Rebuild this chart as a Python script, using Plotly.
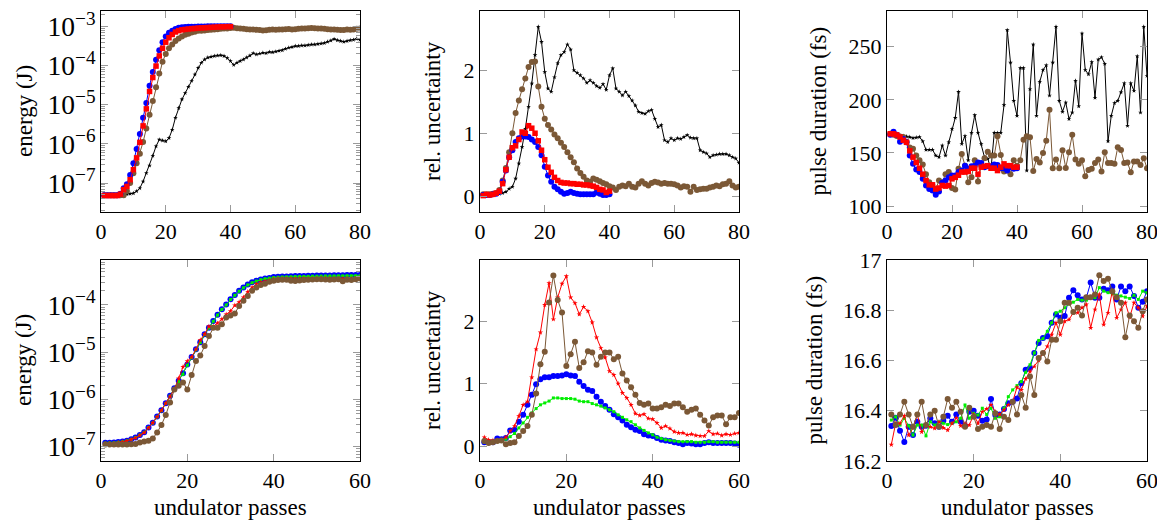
import plotly.graph_objects as go
from plotly.subplots import make_subplots

# ---------------- data ----------------
passes_long = list(range(1, 81))
passes_short = list(range(1, 41))
passes_bottom = list(range(1, 61))

# top-left: energy (J)
tl_black = [4.9e-8, 4.9e-8, 4.9e-8, 4.9e-8, 4.9e-8, 5.0e-8, 5.0e-8, 5.2e-8, 5.3e-8, 5.5e-8,
            6.2e-8, 7.4e-8, 1.1e-7, 1.8e-7, 2.8e-7, 5.0e-7, 8.7e-7, 1.29e-6, 1.23e-6, 1.17e-6,
            1.41e-6, 2.3e-6, 4.7e-6, 8.3e-6, 1.38e-5, 2.0e-5, 2.9e-5, 4.1e-5, 6.0e-5, 8.9e-5,
            1.2e-4, 1.45e-4, 1.62e-4, 1.7e-4, 1.78e-4, 1.82e-4, 1.86e-4, 1.78e-4, 1.58e-4, 1.32e-4,
            1.05e-4, 1.2e-4, 1.32e-4, 1.45e-4, 1.62e-4, 1.82e-4, 2.1e-4, 1.95e-4, 2.04e-4, 2.15e-4,
            2.1e-4, 2.24e-4, 2.2e-4, 2.3e-4, 2.4e-4, 2.5e-4, 2.7e-4, 2.9e-4, 3.0e-4, 3.2e-4,
            3.2e-4, 3.3e-4, 3.3e-4, 3.4e-4, 3.5e-4, 3.5e-4, 3.6e-4, 3.7e-4, 3.8e-4, 4.1e-4,
            4.4e-4, 4.8e-4, 4.5e-4, 4.3e-4, 4.1e-4, 4.3e-4, 4.5e-4, 4.6e-4, 4.9e-4, 4.6e-4]
tl_brown = [4.9e-8, 4.9e-8, 4.9e-8, 4.9e-8, 4.9e-8, 4.9e-8, 4.9e-8, 6.3e-8, 1.0e-7, 1.78e-7,
            3.2e-7, 5.6e-7, 1.12e-6, 2.5e-6, 5.6e-6, 1.26e-5, 2.8e-5, 6.3e-5, 1.26e-4, 2.0e-4,
            2.8e-4, 3.5e-4, 4.3e-4, 5.0e-4, 5.6e-4, 6.2e-4, 6.6e-4, 7.1e-4, 7.4e-4, 7.8e-4,
            7.9e-4, 8.0e-4, 8.2e-4, 8.3e-4, 8.5e-4, 8.6e-4, 8.8e-4, 8.9e-4, 9.0e-4, 9.2e-4,
            9.3e-4, 9.1e-4, 8.9e-4, 8.8e-4, 8.6e-4, 8.5e-4, 8.4e-4, 8.3e-4, 8.2e-4, 8.0e-4,
            8.1e-4, 8.3e-4, 8.4e-4, 8.3e-4, 8.5e-4, 8.4e-4, 8.6e-4, 8.7e-4, 8.5e-4, 8.6e-4,
            8.8e-4, 8.9e-4, 9.0e-4, 9.1e-4, 9.2e-4, 9.1e-4, 9.0e-4, 8.9e-4, 8.8e-4, 8.6e-4,
            8.5e-4, 8.4e-4, 8.3e-4, 8.2e-4, 8.2e-4, 8.4e-4, 8.3e-4, 8.5e-4, 8.8e-4, 9.0e-4]
tl_blue = [4.9e-8, 4.9e-8, 4.9e-8, 4.9e-8, 4.9e-8, 5.3e-8, 7.4e-8, 9.3e-8, 1.6e-7, 3.2e-7,
           7.4e-7, 1.8e-6, 4.7e-6, 1.12e-5, 3.1e-5, 6.9e-5, 1.42e-4, 2.5e-4, 4.0e-4, 5.6e-4,
           7.0e-4, 7.9e-4, 8.7e-4, 9.3e-4, 9.6e-4, 9.8e-4, 9.9e-4, 1.0e-3, 1.0e-3, 1.01e-3,
           1.01e-3, 1.01e-3, 1.02e-3, 1.02e-3, 1.02e-3, 1.02e-3, 1.03e-3, 1.03e-3, 1.03e-3, 1.03e-3]
tl_red = [4.8e-8, 4.8e-8, 4.8e-8, 4.8e-8, 4.8e-8, 5.2e-8, 6.8e-8, 8.2e-8, 1.22e-7, 2.2e-7,
          4.4e-7, 1.1e-6, 2.9e-6, 7.9e-6, 2.2e-5, 5.0e-5, 9.8e-5, 1.78e-4, 2.8e-4, 4.0e-4,
          5.2e-4, 6.3e-4, 7.3e-4, 7.9e-4, 8.3e-4, 8.5e-4, 8.7e-4, 8.9e-4, 9.0e-4, 9.2e-4,
          9.3e-4, 9.4e-4, 9.5e-4, 9.6e-4, 9.7e-4, 9.8e-4, 9.9e-4, 9.9e-4, 1.0e-3, 1.0e-3]

# top-middle: rel. uncertainty
tm_black = [0.03, 0.03, 0.03, 0.03, 0.03, 0.04, 0.05, 0.07, 0.12, 0.15,
            0.28, 0.52, 0.78, 1.07, 1.42, 1.79, 2.24, 2.69, 2.45, 1.97,
            1.71, 1.66, 1.89, 2.11, 2.24, 2.29, 2.41, 2.33, 2.00, 1.96,
            1.92, 1.87, 1.80, 1.84, 1.80, 1.75, 1.72, 1.78, 1.69, 1.92,
            2.03, 1.71, 1.66, 1.60, 1.66, 1.59, 1.52, 1.44, 1.34, 1.32,
            1.31, 1.35, 1.37, 1.23, 1.10, 1.13, 0.89, 0.86, 0.92, 0.89,
            0.92, 0.91, 0.94, 0.97, 0.93, 0.92, 0.92, 0.73, 0.70, 0.68,
            0.62, 0.65, 0.66, 0.67, 0.67, 0.67, 0.65, 0.62, 0.60, 0.53]
tm_brown = [0.03, 0.03, 0.03, 0.04, 0.05, 0.10, 0.25, 0.45, 0.70, 1.00,
            1.32, 1.52, 1.70, 1.87, 2.05, 2.13, 2.14, 1.74, 1.42, 1.23,
            1.13, 1.06, 0.98, 0.92, 0.85, 0.78, 0.70, 0.62, 0.54, 0.44,
            0.37, 0.31, 0.25, 0.23, 0.28, 0.26, 0.24, 0.21, 0.19, 0.16,
            0.14, 0.10, 0.15, 0.17, 0.16, 0.20, 0.15, 0.14, 0.20, 0.24,
            0.20, 0.17, 0.21, 0.23, 0.22, 0.20, 0.21, 0.20, 0.20, 0.19,
            0.17, 0.14, 0.16, 0.15, 0.07, 0.15, 0.10, 0.11, 0.12, 0.12,
            0.14, 0.15, 0.17, 0.16, 0.19, 0.20, 0.24, 0.17, 0.14, 0.15]
tm_blue = [0.02, 0.02, 0.02, 0.03, 0.04, 0.07, 0.23, 0.41, 0.62, 0.73,
           0.86, 0.92, 0.95, 0.95, 0.94, 0.90, 0.86, 0.78, 0.65, 0.47,
           0.33, 0.23, 0.15, 0.11, 0.07, 0.04, 0.05, 0.07, 0.05, 0.04,
           0.03, 0.03, 0.03, 0.03, 0.03, 0.06, 0.04, 0.02, 0.02, 0.03]
tm_red = [0.01, 0.03, 0.02, 0.03, 0.05, 0.08, 0.20, 0.42, 0.62, 0.77,
          0.80, 0.90, 1.02, 1.00, 1.12, 1.08, 1.00, 0.88, 0.73, 0.58,
          0.46, 0.38, 0.30, 0.25, 0.22, 0.21, 0.21, 0.20, 0.20, 0.19,
          0.19, 0.18, 0.18, 0.17, 0.16, 0.14, 0.11, 0.10, 0.06, 0.08]

# top-right: pulse duration (fs)
tr_black = [167, 167, 167, 166.5, 166, 165.5, 165, 164, 164.5, 165,
            161, 153, 153, 153, 147.5, 146, 157, 147.5, 160, 172.5,
            183, 207.5, 158.5, 166, 143, 169, 185.6, 169, 158.5, 146,
            144.4, 135, 169, 168.8, 169, 195, 265.6, 235, 199, 185,
            230, 230, 133.4, 210, 252, 185, 217, 228, 232.5, 204,
            235, 268.8, 199, 188.8, 197.5, 182, 188, 218, 194, 262.5,
            228, 224, 235.6, 202, 238, 240, 234, 161, 185, 197,
            199, 207, 215.6, 175.6, 215.6, 208.4, 241, 188, 268.8, 222.5]
tr_brown = [168, 167, 166, 165.5, 165, 160.6, 155, 154, 147.5, 143,
            139, 130, 122.5, 119, 116, 124, 122.5, 130, 132, 117,
            115.6, 135, 149, 138, 122.5, 127, 143, 123, 138, 145,
            151, 147.5, 147.5, 165.6, 148, 132.5, 133.4, 130, 143, 138,
            143, 162.5, 165.6, 164.7, 133, 144.4, 141, 150, 161.5, 190.6,
            135.6, 143.8, 135.6, 152.5, 135.9, 150.6, 167, 143.8, 139.7, 143,
            128, 134, 135, 140.6, 143.8, 132.5, 150.6, 140.6, 140.6, 139.7,
            155.3, 152.8, 140.6, 141, 131.9, 141.9, 141.9, 138.75, 145, 135.6]
tr_blue = [167, 170, 167, 160.6, 163, 160, 147.5, 139.7, 134.4, 132,
           125.6, 119.4, 116, 114.7, 110.6, 113.8, 122, 124, 127, 128.8,
           128.8, 132, 133.4, 138, 135, 137.5, 138, 141, 140.6, 136.6,
           137.5, 137.5, 139, 138.75, 135.6, 135.6, 133.4, 136.6, 135, 135.6]
tr_red = [168, 168, 167, 165, 162, 160, 152, 146, 141, 135.6,
          130, 124, 120, 120, 116, 117, 119.4, 118.75, 119.4, 125.6,
          127, 129, 132, 132, 132.5, 135.6, 135.6, 130, 136.6, 137.5,
          138, 135.6, 135.6, 133.4, 136.6, 139.7, 138, 138, 136.6, 136.6]

# bottom-left: energy (J)
bl_blue = [1.22e-7, 1.22e-7, 1.23e-7, 1.26e-7, 1.29e-7, 1.35e-7, 1.45e-7, 1.58e-7, 1.78e-7, 2.04e-7,
           2.57e-7, 3.24e-7, 4.37e-7, 5.9e-7, 8.3e-7, 1.2e-6, 1.74e-6, 2.5e-6, 3.6e-6, 5.5e-6,
           7.9e-6, 1.15e-5, 1.62e-5, 2.4e-5, 3.3e-5, 4.6e-5, 6.2e-5, 8.1e-5, 1.02e-4, 1.32e-4,
           1.62e-4, 2.0e-4, 2.34e-4, 2.7e-4, 3.0e-4, 3.24e-4, 3.47e-4, 3.63e-4, 3.72e-4, 3.9e-4,
           3.95e-4, 4.0e-4, 4.0e-4, 4.05e-4, 4.1e-4, 4.1e-4, 4.1e-4, 4.15e-4, 4.15e-4, 4.2e-4,
           4.2e-4, 4.2e-4, 4.2e-4, 4.25e-4, 4.25e-4, 4.25e-4, 4.3e-4, 4.3e-4, 4.3e-4, 4.3e-4]
bl_green = [1.2e-7, 1.21e-7, 1.22e-7, 1.25e-7, 1.28e-7, 1.34e-7, 1.44e-7, 1.57e-7, 1.77e-7, 2.02e-7,
            2.55e-7, 3.2e-7, 4.3e-7, 5.8e-7, 8.2e-7, 1.18e-6, 1.72e-6, 2.4e-6, 3.4e-6, 5.3e-6,
            7.7e-6, 1.12e-5, 1.6e-5, 2.35e-5, 3.25e-5, 4.5e-5, 6.1e-5, 8.0e-5, 1.0e-4, 1.3e-4,
            1.6e-4, 1.95e-4, 2.3e-4, 2.65e-4, 2.95e-4, 3.2e-4, 3.42e-4, 3.58e-4, 3.68e-4, 3.8e-4,
            3.85e-4, 3.9e-4, 3.92e-4, 3.95e-4, 3.98e-4, 4.0e-4, 4.0e-4, 4.02e-4, 4.05e-4, 4.05e-4,
            4.08e-4, 4.1e-4, 4.1e-4, 4.1e-4, 4.12e-4, 4.12e-4, 4.15e-4, 4.15e-4, 4.15e-4, 4.15e-4]
bl_red = [1.17e-7, 1.18e-7, 1.2e-7, 1.23e-7, 1.27e-7, 1.33e-7, 1.43e-7, 1.55e-7, 1.75e-7, 2.0e-7,
          2.5e-7, 3.2e-7, 4.3e-7, 5.9e-7, 8.3e-7, 1.15e-6, 1.66e-6, 2.8e-6, 4.9e-6, 6.5e-6,
          7.9e-6, 1.15e-5, 1.8e-5, 2.4e-5, 3.5e-5, 3.5e-5, 4.1e-5, 5.0e-5, 6.3e-5, 7.4e-5,
          9.8e-5, 1.15e-4, 1.45e-4, 1.9e-4, 2.34e-4, 2.75e-4, 3.0e-4, 3.16e-4, 3.3e-4, 3.55e-4,
          3.6e-4, 3.6e-4, 3.62e-4, 3.6e-4, 3.58e-4, 3.62e-4, 3.65e-4, 3.6e-4, 3.55e-4, 3.62e-4,
          3.68e-4, 3.7e-4, 3.66e-4, 3.6e-4, 3.55e-4, 3.6e-4, 3.65e-4, 3.62e-4, 3.6e-4, 3.7e-4]
bl_brown = [1.12e-7, 1.12e-7, 1.12e-7, 1.12e-7, 1.12e-7, 1.12e-7, 1.13e-7, 1.15e-7, 1.23e-7, 1.3e-7,
            1.35e-7, 1.5e-7, 2.0e-7, 2.9e-7, 4.7e-7, 8.7e-7, 1.62e-6, 1.95e-6, 2.3e-6, 1.62e-6,
            3.3e-6, 6.5e-6, 8.5e-6, 1.35e-5, 2.2e-5, 3.3e-5, 3.3e-5, 3.9e-5, 5.4e-5, 6.0e-5,
            6.6e-5, 9.5e-5, 1.23e-4, 1.55e-4, 2.0e-4, 2.34e-4, 2.63e-4, 2.8e-4, 3.1e-4, 3.24e-4,
            3.35e-4, 3.4e-4, 3.4e-4, 3.24e-4, 3.2e-4, 3.3e-4, 3.35e-4, 3.4e-4, 3.45e-4, 3.5e-4,
            3.5e-4, 3.45e-4, 3.4e-4, 3.45e-4, 3.5e-4, 3.15e-4, 3.4e-4, 3.35e-4, 3.5e-4, 3.6e-4]

# bottom-middle: rel. uncertainty
bm_red = [0.14, 0.10, 0.09, 0.09, 0.10, 0.14, 0.24, 0.32, 0.48, 0.66,
          0.71, 1.10, 1.55, 1.82, 2.26, 2.61, 2.03, 2.38, 2.60, 2.72,
          2.38, 2.29, 2.11, 2.23, 2.16, 1.98, 1.74, 1.57, 1.42, 1.20,
          1.14, 1.00, 0.85, 0.77, 0.66, 0.52, 0.49, 0.51, 0.44, 0.43,
          0.37, 0.29, 0.32, 0.28, 0.23, 0.21, 0.21, 0.18, 0.19, 0.17,
          0.16, 0.16, 0.24, 0.19, 0.20, 0.17, 0.19, 0.18, 0.20, 0.21]
bm_brown = [0.08, 0.05, 0.06, 0.08, 0.09, 0.03, 0.05, 0.06, 0.16, 0.24,
            0.32, 0.50, 0.84, 1.31, 1.51, 2.30, 2.73, 2.34, 2.14, 1.28,
            1.47, 1.67, 1.25, 1.34, 1.52, 1.50, 1.30, 1.43, 1.50, 1.50,
            1.39, 1.43, 1.16, 1.05, 0.94, 0.82, 0.69, 0.66, 0.68, 0.60,
            0.60, 0.62, 0.66, 0.64, 0.68, 0.68, 0.62, 0.55, 0.58, 0.60,
            0.50, 0.41, 0.33, 0.46, 0.49, 0.49, 0.35, 0.46, 0.46, 0.53]
bm_blue = [0.06, 0.06, 0.06, 0.12, 0.11, 0.13, 0.25, 0.26, 0.39, 0.50,
           0.66, 0.82, 0.99, 1.07, 1.10, 1.10, 1.12, 1.12, 1.13, 1.15,
           1.13, 1.12, 1.03, 0.96, 0.90, 0.88, 0.79, 0.71, 0.64, 0.58,
           0.51, 0.46, 0.41, 0.34, 0.30, 0.26, 0.24, 0.19, 0.17, 0.16,
           0.13, 0.10, 0.09, 0.08, 0.06, 0.05, 0.03, 0.05, 0.04, 0.03,
           0.03, 0.05, 0.06, 0.05, 0.05, 0.05, 0.05, 0.05, 0.04, 0.02]
bm_green = [0.06, 0.05, 0.06, 0.07, 0.08, 0.11, 0.15, 0.20, 0.29, 0.37,
            0.46, 0.53, 0.60, 0.66, 0.69, 0.72, 0.77, 0.77, 0.76, 0.76,
            0.76, 0.75, 0.72, 0.71, 0.71, 0.68, 0.66, 0.64, 0.61, 0.58,
            0.55, 0.50, 0.46, 0.42, 0.39, 0.34, 0.29, 0.25, 0.21, 0.18,
            0.14, 0.12, 0.10, 0.09, 0.08, 0.07, 0.07, 0.07, 0.07, 0.06,
            0.06, 0.06, 0.07, 0.07, 0.06, 0.06, 0.06, 0.06, 0.06, 0.06]

# bottom-right: pulse duration (fs)
br_blue = [16.339, 16.372, 16.32, 16.276, 16.336, 16.303, 16.356, 16.336, 16.34, 16.37,
           16.35, 16.336, 16.36, 16.38, 16.356, 16.385, 16.356, 16.34, 16.396, 16.4,
           16.38, 16.36, 16.365, 16.447, 16.383, 16.385, 16.407, 16.43, 16.436, 16.449,
           16.509, 16.563, 16.57, 16.63, 16.67, 16.69, 16.697, 16.75, 16.783, 16.77,
           16.777, 16.85, 16.88, 16.86, 16.843, 16.85, 16.91, 16.85, 16.85, 16.886,
           16.88, 16.895, 16.843, 16.895, 16.876, 16.895, 16.857, 16.81, 16.834, 16.876]
br_green = [16.363, 16.376, 16.343, 16.37, 16.34, 16.303, 16.343, 16.343, 16.3, 16.356,
            16.343, 16.356, 16.35, 16.345, 16.35, 16.356, 16.37, 16.423, 16.37, 16.39,
            16.383, 16.41, 16.385, 16.41, 16.37, 16.376, 16.41, 16.456, 16.483, 16.5,
            16.516, 16.553, 16.583, 16.63, 16.68, 16.687, 16.716, 16.75, 16.79, 16.796,
            16.81, 16.825, 16.832, 16.843, 16.84, 16.84, 16.847, 16.85, 16.89, 16.876,
            16.87, 16.865, 16.86, 16.857, 16.852, 16.847, 16.86, 16.843, 16.876, 16.87]
br_red = [16.265, 16.35, 16.35, 16.38, 16.303, 16.332, 16.385, 16.316, 16.34, 16.336,
          16.33, 16.356, 16.332, 16.323, 16.35, 16.372, 16.34, 16.35, 16.343, 16.385,
          16.35, 16.396, 16.407, 16.423, 16.396, 16.385, 16.403, 16.423, 16.436, 16.493,
          16.483, 16.527, 16.556, 16.576, 16.6, 16.63, 16.656, 16.703, 16.75, 16.703,
          16.756, 16.763, 16.79, 16.79, 16.81, 16.823, 16.73, 16.803, 16.863, 16.743,
          16.79, 16.876, 16.77, 16.803, 16.83, 16.772, 16.83, 16.81, 16.776, 16.816]
br_brown = [16.385, 16.343, 16.385, 16.436, 16.385, 16.336, 16.385, 16.436, 16.343, 16.385,
            16.4, 16.336, 16.376, 16.447, 16.412, 16.436, 16.396, 16.336, 16.412, 16.376,
            16.327, 16.336, 16.343, 16.336, 16.39, 16.327, 16.376, 16.363, 16.436, 16.385,
            16.463, 16.412, 16.536, 16.463, 16.61, 16.63, 16.596, 16.683, 16.683, 16.756,
            16.83, 16.83, 16.793, 16.81, 16.779, 16.852, 16.852, 16.863, 16.939, 16.916,
            16.925, 16.876, 16.852, 16.83, 16.693, 16.779, 16.756, 16.73, 16.796, 16.843]

y_titles = ["energy (J)", "rel. uncertainty", "pulse duration (fs)"]
x_title = "undulator passes"

# ---------------- styling ----------------
BLUE = "#0000ff"
RED = "#ff0000"
BROWN = "#7b5836"
BLACK = "#000000"
GREEN = "#00ee00"
FONT = "Liberation Serif"
TICKGREY = "#9a9a9a"

W, H = 1157, 525
ML, MR, MT, MB = 101, 10, 11, 64
PW, PH = W - ML - MR, H - MT - MB

# plot-area pixel boxes
cols_px = [(101, 360), (480, 739), (887, 1147)]
rows_px = [(11, 212), (260, 461)]


def px_x(p):
    return (p - ML) / PW


def px_y(p):
    return (H - MB - p) / PH


fig = make_subplots(rows=2, cols=3)


def add(row, col, x, y, color, symbol, size):
    fig.add_trace(go.Scatter(x=x, y=y, mode="lines+markers",
                             line=dict(color=color, width=1),
                             marker=dict(symbol=symbol, size=size, color=color,
                                         line=dict(width=0)),
                             showlegend=False, hoverinfo="skip", cliponaxis=True),
                  row=row, col=col)


# top row
add(1, 1, passes_long, tl_black, BLACK, "star", 3.5)
add(1, 1, passes_long, tl_brown, BROWN, "circle", 6)
add(1, 1, passes_short, tl_blue, BLUE, "circle", 6)
add(1, 1, passes_short, tl_red, RED, "square", 5.5)

add(1, 2, passes_long, tm_black, BLACK, "star", 3.5)
add(1, 2, passes_long, tm_brown, BROWN, "circle", 6)
add(1, 2, passes_short, tm_blue, BLUE, "circle", 6)
add(1, 2, passes_short, tm_red, RED, "square", 5.5)

add(1, 3, passes_long, tr_black, BLACK, "star", 3.5)
add(1, 3, passes_long, tr_brown, BROWN, "circle", 6)
add(1, 3, passes_short, tr_blue, BLUE, "circle", 6)
add(1, 3, passes_short, tr_red, RED, "square", 5.5)

# bottom row
add(2, 1, passes_bottom, bl_blue, BLUE, "circle", 6)
add(2, 1, passes_bottom, bl_green, GREEN, "square", 3)
add(2, 1, passes_bottom, bl_red, RED, "star", 4)
add(2, 1, passes_bottom, bl_brown, BROWN, "circle", 6)

add(2, 2, passes_bottom, bm_blue, BLUE, "circle", 6)
add(2, 2, passes_bottom, bm_green, GREEN, "square", 3)
add(2, 2, passes_bottom, bm_red, RED, "star", 4)
add(2, 2, passes_bottom, bm_brown, BROWN, "circle", 6)

add(2, 3, passes_bottom, br_blue, BLUE, "circle", 6)
add(2, 3, passes_bottom, br_green, GREEN, "square", 3)
add(2, 3, passes_bottom, br_red, RED, "star", 4)
add(2, 3, passes_bottom, br_brown, BROWN, "circle", 6)

common = dict(showline=True, linecolor="black", linewidth=1, mirror="allticks",
              ticks="inside", ticklen=7, tickwidth=1, tickcolor=TICKGREY,
              showgrid=False, zeroline=False, automargin=False,
              ticklabeloverflow="allow",
              tickfont=dict(family=FONT, size=22, color="black"))

layout = {}
for r in range(2):
    for c in range(3):
        idx = r * 3 + c + 1
        sfx = "" if idx == 1 else str(idx)
        x0, x1 = cols_px[c]
        t, b = rows_px[r]
        xd = [max(0.0, px_x(x0)), min(1.0, px_x(x1))]
        yd = [max(0.0, px_y(b)), min(1.0, px_y(t))]
        xa = dict(common, domain=xd, anchor="y" + sfx)
        if r == 0:
            xa.update(range=[0, 80], tickvals=[0, 20, 40, 60, 80])
        else:
            xa.update(range=[0, 60], tickvals=[0, 20, 40, 60])
        ya = dict(common, domain=yd, anchor="x" + sfx)
        layout["xaxis" + sfx] = xa
        layout["yaxis" + sfx] = ya

minor_log = dict(ticks="inside", ticklen=4, tickcolor=TICKGREY, dtick="D1", showgrid=False)
layout["yaxis"].update(type="log", range=[-7.74, -2.6], dtick=1, exponentformat="power",
                       minor=minor_log)
layout["yaxis2"].update(range=[-0.25, 2.94], tickvals=[0, 1, 2])
layout["yaxis3"].update(range=[94.4, 283.6], tickvals=[100, 150, 200, 250])
layout["yaxis4"].update(type="log", range=[-7.30, -3.05], dtick=1, exponentformat="power",
                        minor=minor_log)
layout["yaxis5"].update(range=[-0.24, 2.98], tickvals=[0, 1, 2])
layout["yaxis6"].update(range=[16.2, 17.0], tickvals=[16.2, 16.4, 16.6, 16.8, 17.0],
                        ticktext=["16.2", "16.4", "16.6", "16.8", "17"])

fig.update_layout(**layout)

# axis titles as annotations
ann = []
ytitle_x = [[24.5, 432.5, 818], [23.5, 432.5, 814]]
for r in range(2):
    t, b = rows_px[r]
    yc = px_y((t + b) / 2)
    for c in range(3):
        ann.append(dict(text=y_titles[c], x=px_x(ytitle_x[r][c]), y=yc, xref="paper", yref="paper",
                        xanchor="center", yanchor="middle", textangle=-90, showarrow=False,
                        font=dict(family=FONT, size=23, color="black")))
for c in range(3):
    x0, x1 = cols_px[c]
    ann.append(dict(text=x_title, x=px_x((x0 + x1) / 2), y=px_y(508), xref="paper", yref="paper",
                    xanchor="center", yanchor="middle", showarrow=False,
                    font=dict(family=FONT, size=23, color="black")))

fig.update_layout(width=W, height=H, margin=dict(l=ML, r=MR, t=MT, b=MB, autoexpand=False),
                  plot_bgcolor="white", paper_bgcolor="white", annotations=ann,
                  showlegend=False)

fig.write_html("out.html", config={"displayModeBar": False},
               post_script="document.body.style.margin='0px'; document.body.style.overflow='hidden';")
